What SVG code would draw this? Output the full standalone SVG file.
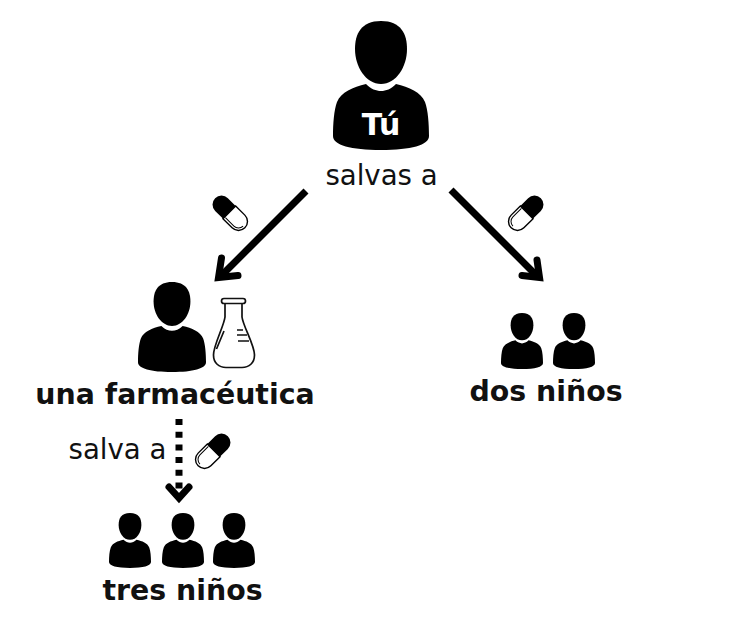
<svg xmlns="http://www.w3.org/2000/svg" width="750" height="629" viewBox="0 0 750 629">
<style>
text{font-family:"DejaVu Sans",sans-serif;fill:#111}
.b{font-weight:700}
.n{font-size:27.600px}
.l{font-size:28.400px;font-weight:700}
.line{fill:none;stroke:#000;stroke-width:7}
.head{fill:none;stroke:#000;stroke-width:7;stroke-linecap:round;stroke-linejoin:miter}
</style>
<defs>
<symbol id="person" viewBox="0 0 96 129" preserveAspectRatio="none">
<path d="M48 0C68 0 74 13 74 28C74 46 63 63 48 63C33 63 22 46 22 28C22 13 28 0 48 0Z"/>
<path d="M33 63C38 68 43 70 48 70C53 70 58 68 63 63C76 66 88 71 92 81C95 89 96 103 96 115C96 124 78 129 48 129C18 129 0 124 0 115C0 103 1 89 4 81C8 71 20 66 33 63Z"/>
</symbol>
<symbol id="pill" viewBox="-23 -11 46 22" overflow="visible">
<path d="M0 -9H-12A9 9 0 0 0 -12 9H0Z" fill="#000"/>
<path d="M-1 -9H12A9 9 0 0 1 12 9H-1Z" fill="#fff" stroke="#000" stroke-width="1.400"/>
<path d="M0 6.500H12A6.500 6.500 0 0 0 18.500 0" fill="none" stroke="#000" stroke-width="1"/>
</symbol>
</defs>
<g id="connectors">
<path class="line" d="M306 191L222 275"/>
<path class="head" d="M221.500 258L218.500 277.500L238 275.500"/>
<path class="line" d="M451 190L536 275"/>
<path class="head" d="M537 260L539.500 277.500L522 275.500"/>
<path class="line" d="M179 419V495" stroke-dasharray="6 6.700"/>
<path class="head" d="M169 487L179 498L189 487"/>
</g>
<g id="node-tu">
<use href="#person" x="333" y="21" width="96" height="129"/>
<text x="381" y="135" text-anchor="middle" class="b" font-size="30" style="fill:#fff">Tú</text>
<text x="381.500" y="185" text-anchor="middle" class="n">salvas a</text>
</g>
<g id="node-farmaceutica">
<use href="#person" x="138" y="282" width="68" height="90"/>
<g fill="none" stroke="#111" stroke-width="1.700">
<rect x="221.500" y="298.500" width="24" height="5" rx="2.500"/>
<path d="M225 303.500V317C224 326 213.500 345 213.500 355C213.500 363 219 367.500 226 367.500H242C249 367.500 254.500 363 254.500 355C254.500 345 243 326 242 317V303.500"/>
<path d="M224 331L216.500 349M237 330H243M237 335H247M238 341H249"/>
</g>
<text x="175" y="404" text-anchor="middle" class="l">una farmacéutica</text>
</g>
<g id="node-dos">
<use href="#person" x="501" y="313" width="42" height="56"/>
<use href="#person" x="553" y="313" width="42" height="56"/>
<text x="546" y="401" text-anchor="middle" class="l">dos niños</text>
</g>
<g id="node-tres">
<use href="#person" x="109" y="513" width="42" height="55"/>
<use href="#person" x="162" y="513" width="42" height="55"/>
<use href="#person" x="213" y="513" width="42" height="55"/>
<text x="182.500" y="600" text-anchor="middle" class="l">tres niños</text>
</g>
<g id="label-salva">
<text x="117.500" y="459" text-anchor="middle" class="n">salva a</text>
</g>
<g id="pills">
<use href="#pill" width="46" height="22" x="-23" y="-11" transform="translate(230 213) rotate(45)"/>
<use href="#pill" width="46" height="22" x="-23" y="-11" transform="translate(526 213) rotate(135)"/>
<use href="#pill" width="46" height="22" x="-23" y="-11" transform="translate(213 451) rotate(135)"/>
</g>
</svg>
